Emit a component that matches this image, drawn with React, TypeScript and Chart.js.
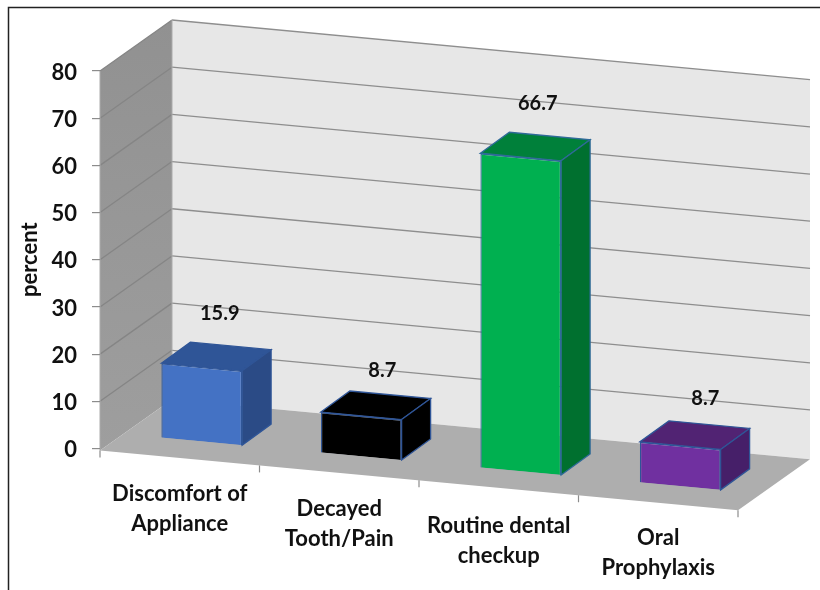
import React, { useEffect, useRef } from "react";
import { Chart, registerables, Scale } from "chart.js";

Chart.register(...registerables);

const categories = [
  ["Discomfort of", "Appliance"],
  ["Decayed", "Tooth/Pain"],
  ["Routine dental", "checkup"],
  ["Oral", "Prophylaxis"],
];
const percentValues = [15.9, 8.7, 66.7, 8.7];
const frontColors = ["#4472C4", "#000000", "#00B050", "#7030A0"];
const topColors = ["#2F5597", "#000000", "#00803A", "#512373"];
const sideColors = ["#2B4B86", "#000000", "#00702F", "#461F69"];
const edgeColors = ["#2F5597", "#2F5597", "#2F6A98", "#2F5597"];
const yTicks = [0, 10, 20, 30, 40, 50, 60, 70, 80];
const labelNudgeY = [0, 0, 2.2, -1];
const valueNudge = [
  [-5, 1.5],
  [-2, 9.5],
  [-6, 1.5],
  [2, 7.5],
];

const FONT = "Lato, Carlito, sans-serif";
const SLOPE = 0.0935; // rise of the back/front edges per px
const DX = 72; // wall depth vector
const DY = -51;
const BAR_SHIFT_X = 22; // bar front offset into the floor
const BAR_SHIFT_Y = -14;
const BAR_DX = 29; // bar depth vector
const BAR_DY = -21;

const poly = (ctx: CanvasRenderingContext2D, pts: number[][], fill: string | CanvasGradient, stroke?: string, lw = 1) => {
  ctx.beginPath();
  pts.forEach((p, i) => (i ? ctx.lineTo(p[0], p[1]) : ctx.moveTo(p[0], p[1])));
  ctx.closePath();
  ctx.fillStyle = fill;
  ctx.fill();
  if (stroke) {
    ctx.strokeStyle = stroke;
    ctx.lineWidth = lw;
    ctx.stroke();
  }
};

const scene3d = {
  id: "scene3d",
  beforeDraw(chart: any) {
    const { ctx, chartArea: a, scales } = chart;
    const y = scales.y;
    const x = scales.x;
    const L = a.left;
    const R = a.right;
    const shear = (X: number) => (X - L) * SLOPE;
    ctx.save();
    // frame
    ctx.strokeStyle = "#222222";
    ctx.lineWidth = 1.5;
    ctx.beginPath();
    ctx.moveTo(8.5, 590);
    ctx.lineTo(8.5, 7.5);
    ctx.lineTo(820, 7.5);
    ctx.stroke();
    // back wall
    poly(ctx, [
      [L + DX, a.top + DY],
      [R + DX, a.top + DY + shear(R)],
      [R + DX, a.bottom + DY + shear(R) + 2],
      [L + DX, a.bottom + DY + 2],
    ], "#E7E7E7");
    // left wall
    const grad = ctx.createLinearGradient(0, a.top + DY, 0, a.bottom);
    grad.addColorStop(0, "#919191");
    grad.addColorStop(1, "#9E9E9E");
    poly(ctx, [
      [L, a.top],
      [L + DX, a.top + DY],
      [L + DX, a.bottom + DY + 2],
      [L, a.bottom + 2],
    ], grad);
    // floor
    poly(ctx, [
      [L, a.bottom + 2],
      [R, a.bottom + 2 + shear(R)],
      [R + DX, a.bottom + 2 + DY + shear(R)],
      [L + DX, a.bottom + 2 + DY],
    ], "#AEAEAE");
    // gridlines from the value scale
    ctx.lineWidth = 1.3;
    y.ticks.forEach((t: any) => {
      const py = y.getPixelForValue(t.value);
      if (t.value > 0) {
        ctx.strokeStyle = "#858585";
        ctx.beginPath();
        ctx.moveTo(L, py);
        ctx.lineTo(L + DX, py + DY);
        ctx.stroke();
        ctx.strokeStyle = "#8E8E8E";
        ctx.beginPath();
        ctx.moveTo(L + DX, py + DY);
        ctx.lineTo(R + DX, py + DY + shear(R));
        ctx.stroke();
      }
    });
    ctx.strokeStyle = "#ABABAB";
    ctx.lineWidth = 1;
    ctx.beginPath();
    ctx.moveTo(L + DX, a.top + DY);
    ctx.lineTo(L + DX, a.bottom + DY + 2);
    ctx.moveTo(L, a.top);
    ctx.lineTo(L, a.bottom + 2);
    ctx.stroke();
    // category boundary ticks on the front floor edge
    const step = (R - L) / categories.length;
    ctx.strokeStyle = "#8C8C8C";
    ctx.lineWidth = 1.2;
    for (let i = 0; i <= categories.length; i++) {
      const X = i < categories.length ? x.getPixelForValue(i) - step / 2 : x.getPixelForValue(i - 1) + step / 2;
      const base = a.bottom + 2 + shear(X);
      ctx.beginPath();
      ctx.moveTo(X, base);
      ctx.lineTo(X, base + 7);
      ctx.stroke();
    }
    ctx.restore();
  },
  beforeDatasetsDraw(chart: any) {
    const { ctx, chartArea: a } = chart;
    const meta = chart.getDatasetMeta(0);
    const shear = (X: number) => (X - a.left) * SLOPE;
    // top and side faces, in the same sheared frame as the native bar fronts
    ctx.save();
    meta.data.forEach((bar: any, i: number) => {
      const x0 = bar.x - bar.width / 2 + BAR_SHIFT_X;
      const x1 = bar.x + bar.width / 2 + BAR_SHIFT_X;
      const sh0 = shear(bar.x - bar.width / 2) + BAR_SHIFT_Y;
      const sh1 = shear(bar.x + bar.width / 2) + BAR_SHIFT_Y;
      const t0 = bar.y + sh0;
      const t1 = bar.y + sh1;
      const b1 = bar.base + sh1;
      poly(ctx, [[x0, t0], [x1, t1], [x1 + BAR_DX, t1 + BAR_DY], [x0 + BAR_DX, t0 + BAR_DY]], topColors[i], edgeColors[i], 1.3);
      poly(ctx, [[x1, t1], [x1 + BAR_DX, t1 + BAR_DY], [x1 + BAR_DX, b1 + BAR_DY], [x1, b1]], sideColors[i], edgeColors[i], 1.3);
    });
    ctx.restore();
    // shear the frame for the library's own bar fronts
    ctx.save();
    ctx.transform(1, SLOPE, 0, 1, BAR_SHIFT_X, BAR_SHIFT_Y - a.left * SLOPE);
  },
  afterDatasetsDraw(chart: any) {
    const { ctx, chartArea: a } = chart;
    ctx.restore();
    const meta = chart.getDatasetMeta(0);
    const shear = (X: number) => (X - a.left) * SLOPE;
    ctx.save();
    ctx.font = `700 20px ${FONT}`;
    ctx.fillStyle = "#111111";
    ctx.textAlign = "center";
    ctx.textBaseline = "middle";
    meta.data.forEach((bar: any, i: number) => {
      const tx = bar.x + BAR_SHIFT_X + 23 + valueNudge[i][0];
      const ty = bar.y + shear(bar.x) + BAR_SHIFT_Y - 55 + valueNudge[i][1];
      ctx.fillText(String(percentValues[i]), tx, ty);
    });
    ctx.restore();
  },
};

export default function App() {
  const ref = useRef<HTMLCanvasElement>(null);
  useEffect(() => {
    const chart = new Chart(ref.current!, {
      type: "bar",
      data: {
        labels: categories,
        datasets: [
          {
            label: "percent",
            data: percentValues,
            backgroundColor: frontColors,
            borderColor: edgeColors,
            borderWidth: 1.3,
            barPercentage: 0.506,
            categoryPercentage: 1,
            clip: false,
          } as any,
        ],
      },
      plugins: [scene3d],
      options: {
        responsive: false,
        animation: false,
        layout: { padding: { left: 0, top: 71, right: 82, bottom: 0 } },
        plugins: { legend: { display: false }, tooltip: { enabled: false } },
        scales: {
          x: {
            grid: { display: false },
            border: { display: false },
            ticks: {
              autoSkip: false,
              maxRotation: 0,
              minRotation: 0,
              color: "#111111",
              padding: 0,
              font: { family: FONT, weight: "bold", size: 22, lineHeight: 30 / 22 },
            },
            afterFit(scale: any) {
              scale.height = 141.5;
              // staggered horizontal labels that follow the sheared floor edge
              scale.getLabelItems = function (ca: any) {
                const items = Scale.prototype.getLabelItems.call(this, ca);
                return items.map((it: any, i: number) => {
                  const [tx, ty] = it.options.translation;
                  const dy = (tx - this.left) * SLOPE + labelNudgeY[i];
                  return { ...it, options: { ...it.options, translation: [tx, ty + 15 + dy] } };
                });
              };
            },
          },
          y: {
            min: 0,
            max: 80,
            afterFit(scale: any) {
              scale.width = 100;
              scale.getLabelItems = function (ca: any) {
                const items = Scale.prototype.getLabelItems.call(this, ca);
                return items.map((it: any) => {
                  const [tx, ty] = it.options.translation;
                  return { ...it, options: { ...it.options, translation: [tx, ty + 1.5] } };
                });
              };
            },
            afterBuildTicks(scale: any) {
              scale.ticks = yTicks.map((value) => ({ value }));
            },
            title: {
              display: true,
              text: "percent",
              color: "#111111",
              padding: { top: 19, bottom: 0 },
              font: { family: FONT, weight: "bold", size: 22, lineHeight: 1 },
            },
            border: { display: false },
            grid: { drawOnChartArea: false, drawTicks: true, tickLength: 8, color: "#8C8C8C", lineWidth: 1.2 },
            ticks: {
              color: "#111111",
              padding: 15,
              font: { family: FONT, weight: "bold", size: 22 },
            },
          },
        },
      } as any,
    });
    return () => chart.destroy();
  }, []);
  return (
    <div style={{ position: "absolute", left: 0, top: 0, width: 820, height: 590, background: "#fff" }}>
      <canvas ref={ref} width={820} height={590} style={{ display: "block" }} />
    </div>
  );
}
